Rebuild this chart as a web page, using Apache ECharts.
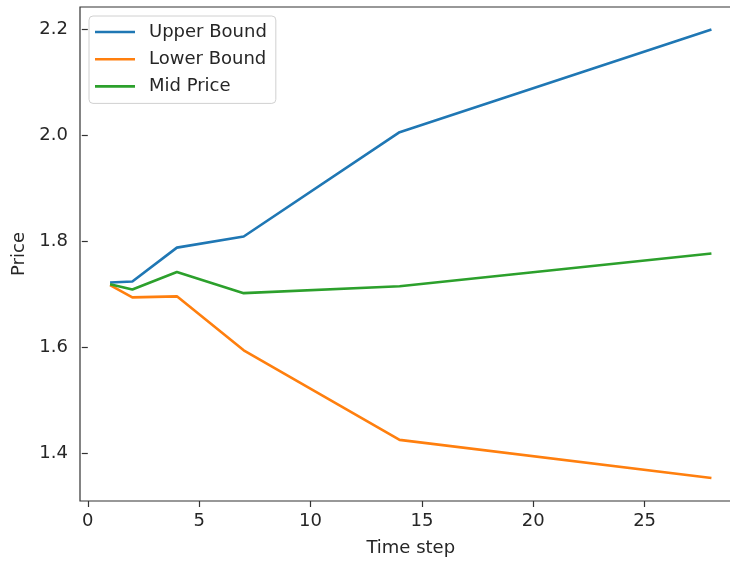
<!DOCTYPE html>
<html>
<head>
<meta charset="utf-8">
<script src="https://cdn.jsdelivr.net/npm/echarts@6/dist/echarts.min.js"></script>
<style>
  html, body { margin: 0; padding: 0; background: #fff; }
  #chart { width: 730px; height: 561px; }
</style>
</head>
<body>
<div id="chart"></div>
<script>
// Time steps and price bounds
const timeSteps = [1, 2, 4, 7, 14, 28];
const upperBound = [1.722, 1.724, 1.788, 1.809, 2.006, 2.200];
const lowerBound = [1.717, 1.694, 1.696, 1.594, 1.425, 1.353];
const midPrice   = [1.719, 1.709, 1.742, 1.702, 1.715, 1.777];
const xTicks = [0, 5, 10, 15, 20, 25];
const yTicks = [1.4, 1.6, 1.8, 2.0, 2.2];

const FONT = 'DejaVu Sans';
const FS = 18;
const INK = '#262626';
const pairs = (ys) => timeSteps.map((x, i) => [x, ys[i]]);

const chart = echarts.init(document.getElementById('chart'));
chart.setOption({
  animation: false,
  textStyle: { fontFamily: FONT },
  // plot frame runs a little past the right edge of the canvas
  grid: {
    left: 80, width: 661.5, top: 7, bottom: 60,
    outerBoundsMode: 'none',
    show: true, borderColor: '#333', borderWidth: 1.2, backgroundColor: 'transparent'
  },
  legend: {
    orient: 'vertical',
    left: 89, top: 16,
    padding: [6, 9, 7, 6],
    borderColor: '#d0d0d0', borderWidth: 1, borderRadius: 4,
    backgroundColor: 'rgba(255,255,255,0.8)',
    icon: 'rect', itemWidth: 40, itemHeight: 2.6, itemGap: 7.2,
    textStyle: { fontFamily: FONT, fontSize: FS, color: INK, lineHeight: 20, padding: [0, 0, 0, 9] },
    data: ['Upper Bound', 'Lower Bound', 'Mid Price']
  },
  xAxis: {
    type: 'value',
    min: -0.35, max: 29.35,
    name: 'Time step', nameLocation: 'middle', nameGap: 38,
    nameTextStyle: { fontFamily: FONT, fontSize: FS, color: INK },
    axisLine: { show: false },
    splitLine: { show: false },
    axisTick: { show: true, length: 6, lineStyle: { color: '#333', width: 1.2 }, customValues: xTicks },
    axisLabel: { fontFamily: FONT, fontSize: FS, color: INK, margin: 11, customValues: xTicks }
  },
  yAxis: {
    type: 'value',
    min: 1.3095, max: 2.2424,
    name: 'Price', nameLocation: 'middle', nameGap: 51, nameRotate: 90,
    nameTextStyle: { fontFamily: FONT, fontSize: FS, color: INK },
    axisLine: { show: false },
    splitLine: { show: false },
    axisTick: { show: true, length: 6, lineStyle: { color: '#333', width: 1.2 }, customValues: yTicks },
    axisLabel: {
      fontFamily: FONT, fontSize: FS, color: INK, margin: 12, customValues: yTicks,
      formatter: (v) => v.toFixed(1)
    }
  },
  series: [
    { name: 'Upper Bound', type: 'line', data: pairs(upperBound), showSymbol: false, symbol: 'none',
      color: '#1f77b4', lineStyle: { width: 2.6, color: '#1f77b4' } },
    { name: 'Lower Bound', type: 'line', data: pairs(lowerBound), showSymbol: false, symbol: 'none',
      color: '#ff7f0e', lineStyle: { width: 2.6, color: '#ff7f0e' } },
    { name: 'Mid Price', type: 'line', data: pairs(midPrice), showSymbol: false, symbol: 'none',
      color: '#2ca02c', lineStyle: { width: 2.6, color: '#2ca02c' } }
  ]
});
</script>
</body>
</html>
